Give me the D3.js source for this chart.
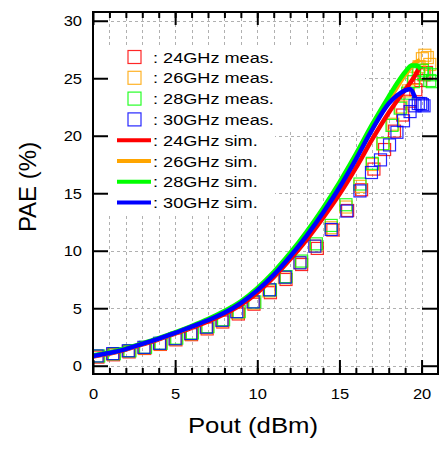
<!DOCTYPE html>
<html>
<head>
<meta charset="utf-8">
<script src="https://cdn.jsdelivr.net/npm/d3@7"></script>
<style>
  body { margin: 0; background: #fff; }
  svg { display: block; font-family: "Liberation Sans", Arial, sans-serif; }
</style>
</head>
<body>
<div id="chart"></div>
<script>
// ---- data ----
const freqs = ["24GHz", "26GHz", "28GHz", "30GHz"];
const colors = ["#ff0000", "#ffa500", "#00ff00", "#0000ff"];

// measured (squares)
const meas24x = [0.3,1.25,2.2,3.15,4.1,5.05,6.0,6.95,7.9,8.85,9.8,10.8,11.75,12.7,13.65,14.6,15.5,16.35,17.1,17.75,18.35,18.85,19.3,19.65,19.95,20.15,20.3];
const meas24y = [0.75,0.95,1.2,1.5,1.85,2.25,2.7,3.2,3.8,4.5,5.35,6.35,7.5,8.8,10.2,11.8,13.5,15.3,17.1,18.8,20.4,21.8,23.0,24.0,24.8,25.3,25.5];
const meas26x = [0.25,1.2,2.15,3.1,4.05,5.0,5.95,6.9,7.85,8.8,9.75,10.7,11.65,12.6,13.55,14.5,15.4,16.25,17.0,17.65,18.25,18.75,19.2,19.55,19.85,20.05,20.2,20.35,20.5];
const meas26y = [0.8,1.0,1.25,1.55,1.9,2.3,2.75,3.3,3.9,4.6,5.45,6.5,7.65,8.95,10.4,12.0,13.8,15.6,17.5,19.3,21.0,22.5,23.9,25.0,26.0,26.7,27.0,26.8,26.2];
const meas28x = [0.35,1.3,2.25,3.2,4.15,5.1,6.05,7.0,7.95,8.9,9.85,10.8,11.75,12.7,13.6,14.5,15.4,16.25,17.0,17.65,18.2,18.7,19.15,19.5,19.8,20.05,20.3,20.5,20.65,20.75];
const meas28y = [0.85,1.05,1.3,1.6,1.95,2.4,2.85,3.4,4.0,4.7,5.55,6.6,7.75,9.1,10.6,12.2,14.0,15.8,17.6,19.3,20.9,22.4,23.7,24.7,25.4,25.7,25.4,24.8,24.7,25.3];
const meas30x = [0.25,1.2,2.15,3.1,4.05,5.0,5.95,6.9,7.85,8.75,9.75,10.75,11.7,12.6,13.5,14.5,15.45,16.25,16.95,17.5,18.05,18.5,18.9,19.3,19.6,19.8,19.95,20.05,20.15];
const meas30y = [0.85,1.05,1.3,1.6,1.95,2.35,2.8,3.35,3.95,4.7,5.55,6.6,7.7,8.95,10.4,11.85,13.45,15.2,16.8,17.9,19.2,20.3,21.3,22.1,22.6,22.8,22.8,22.7,22.6];

// simulated (lines)
const sim24x = [0,1,2,3,4,5,6,7,8,9,10,11,12,13,14,15,16,17,18,19,19.5,19.9];
const sim24y = [0.8,1.05,1.4,1.85,2.3,2.8,3.3,3.85,4.5,5.3,6.35,7.7,9.25,10.95,12.85,14.9,17.2,19.7,22.0,24.0,25.0,26.0];
const sim26x = [0,1,2,3,4,5,6,7,8,9,10,11,12,13,14,15,16,17,18,18.5,19,19.5,19.9];
const sim26y = [0.85,1.1,1.45,1.9,2.35,2.85,3.4,4.0,4.65,5.5,6.6,7.95,9.55,11.4,13.45,15.6,18.0,20.6,23.0,24.2,25.3,26.2,26.6];
const sim28x = [0,1,2,3,4,5,6,7,8,9,10,11,12,13,14,15,16,17,18,18.5,19,19.4,19.7,19.95];
const sim28y = [0.9,1.15,1.5,1.95,2.4,2.9,3.45,4.05,4.75,5.6,6.75,8.15,9.8,11.65,13.7,15.95,18.4,21.0,23.4,24.55,25.55,26.1,26.1,25.8];
const sim30x = [0,1,2,3,4,5,6,7,8,9,10,11,12,13,14,15,16,17,18,18.5,19,19.3,19.6];
const sim30y = [0.85,1.1,1.45,1.9,2.35,2.85,3.4,3.95,4.6,5.45,6.55,7.9,9.5,11.3,13.3,15.5,17.95,20.55,22.8,23.5,23.95,24.05,23.3];

const xMajor = [0, 5, 10, 15, 20];
const yMajor = [0, 5, 10, 15, 20, 25, 30];

const measX = [meas24x, meas26x, meas28x, meas30x];
const measY = [meas24y, meas26y, meas28y, meas30y];
const simX = [sim24x, sim26x, sim28x, sim30x];
const simY = [sim24y, sim26y, sim28y, sim30y];

// ---- layout ----
const W = 440, H = 449;
const pLeft = 93, pRight = 438, pTop = 12, pBottom = 374;

const x = d3.scaleLinear().domain([0, 21]).range([pLeft, pRight]);
const y = d3.scaleLinear().domain([-0.72, 30.76]).range([pBottom, pTop]);

const svg = d3.select("#chart").append("svg")
  .attr("width", W).attr("height", H);

svg.append("defs").append("clipPath").attr("id", "plotclip")
  .append("rect")
  .attr("x", pLeft).attr("y", pTop)
  .attr("width", pRight - pLeft).attr("height", pBottom - pTop);

// gridlines
const grid = svg.append("g")
  .attr("stroke", "#b0b0b0")
  .attr("stroke-width", 1)
  .attr("stroke-dasharray", "3,3");

grid.selectAll("line.v")
  .data(d3.range(1, 21))
  .enter().append("line")
  .attr("class", "v")
  .attr("x1", d => Math.round(x(d)) + 0.5).attr("x2", d => Math.round(x(d)) + 0.5)
  .attr("y1", pTop).attr("y2", pBottom);

grid.selectAll("line.h")
  .data(yMajor)
  .enter().append("line")
  .attr("class", "h")
  .attr("y1", d => Math.round(y(d)) + 0.5).attr("y2", d => Math.round(y(d)) + 0.5)
  .attr("x1", pLeft).attr("x2", pRight);

// legend backgrounds (they hide the grid)
svg.append("rect").attr("x", 106).attr("y", 46).attr("width", 259).attr("height", 84).attr("fill", "#fff");
svg.append("rect").attr("x", 106).attr("y", 130).attr("width", 169).attr("height", 85).attr("fill", "#fff");

// plot contents
const plot = svg.append("g").attr("clip-path", "url(#plotclip)");

const sq = 12;
freqs.forEach((f, i) => {
  const pts = measX[i].map((v, j) => [v, measY[i][j]]);
  plot.append("g")
    .selectAll("rect")
    .data(pts)
    .enter().append("rect")
    .attr("x", d => x(d[0]) - sq / 2)
    .attr("y", d => y(d[1]) - sq / 2)
    .attr("width", sq).attr("height", sq)
    .attr("fill", "none")
    .attr("stroke", colors[i])
    .attr("stroke-width", 1.2)
    .attr("opacity", 0.85);
});

const line = d3.line()
  .x(d => x(d[0]))
  .y(d => y(d[1]))
  .curve(d3.curveMonotoneX);

freqs.forEach((f, i) => {
  const pts = simX[i].map((v, j) => [v, simY[i][j]]);
  plot.append("path")
    .datum(pts)
    .attr("d", line)
    .attr("fill", "none")
    .attr("stroke", colors[i])
    .attr("stroke-width", 4.5)
    .attr("stroke-linejoin", "round");
});

// axes
const tickFont = 15, tickStretch = 1.1;

function styleAxis(g) {
  g.select(".domain").remove();
  g.selectAll(".tick line").attr("stroke", "#000").attr("stroke-width", 2);
}

// bottom: minor + major with labels
svg.append("g").attr("transform", `translate(0,${pBottom})`)
  .call(d3.axisBottom(x).tickValues(d3.range(1, 21)).tickSize(-6).tickFormat(""))
  .call(styleAxis);
const xAx = svg.append("g").attr("transform", `translate(0,${pBottom})`)
  .call(d3.axisBottom(x).tickValues(xMajor).tickSize(-14).tickPadding(14))
  .call(styleAxis);
xAx.selectAll("text")
  .attr("font-size", tickFont).attr("fill", "#000")
  .attr("font-family", "Liberation Sans, Arial, sans-serif")
  .attr("transform", `scale(${tickStretch},1)`);

// top
svg.append("g").attr("transform", `translate(0,${pTop})`)
  .call(d3.axisTop(x).tickValues(d3.range(1, 21)).tickSize(-6).tickFormat(""))
  .call(styleAxis);
svg.append("g").attr("transform", `translate(0,${pTop})`)
  .call(d3.axisTop(x).tickValues(xMajor).tickSize(-13).tickFormat(""))
  .call(styleAxis);

// left
const yAx = svg.append("g").attr("transform", `translate(${pLeft},0)`)
  .call(d3.axisLeft(y).tickValues(yMajor).tickSize(-15).tickPadding(10))
  .call(styleAxis);
yAx.selectAll("text")
  .attr("font-size", tickFont).attr("fill", "#000")
  .attr("font-family", "Liberation Sans, Arial, sans-serif")
  .attr("transform", `scale(${tickStretch},1)`);

// right
svg.append("g").attr("transform", `translate(${pRight},0)`)
  .call(d3.axisRight(y).tickValues(yMajor).tickSize(-16).tickFormat(""))
  .call(styleAxis);

// frame
svg.append("rect")
  .attr("x", pLeft).attr("y", pTop)
  .attr("width", pRight - pLeft).attr("height", pBottom - pTop)
  .attr("fill", "none").attr("stroke", "#000").attr("stroke-width", 2);

// axis titles
svg.append("text")
  .attr("transform", "translate(253,433) scale(1.17,1)")
  .attr("text-anchor", "middle")
  .attr("font-size", 22)
  .text("Pout (dBm)");

svg.append("text")
  .attr("transform", "translate(36,187) rotate(-90)")
  .attr("text-anchor", "middle")
  .attr("font-size", 24)
  .text("PAE (%)");

// legend
const legRows = [];
freqs.forEach((f, i) => legRows.push({ type: "meas", color: colors[i], label: ": " + f + " meas." }));
freqs.forEach((f, i) => legRows.push({ type: "sim", color: colors[i], label: ": " + f + " sim." }));

const legend = svg.append("g");
const item = legend.selectAll("g")
  .data(legRows)
  .enter().append("g")
  .attr("transform", (d, i) => `translate(0,${57 + i * 20.8})`);

item.filter(d => d.type === "meas").append("rect")
  .attr("x", 128).attr("y", -6.5)
  .attr("width", 13).attr("height", 13)
  .attr("fill", "none")
  .attr("stroke", d => d.color)
  .attr("stroke-width", 1.2)
  .attr("opacity", 0.85);

item.filter(d => d.type === "sim").append("line")
  .attr("x1", 117).attr("x2", 151)
  .attr("y1", 0).attr("y2", 0)
  .attr("stroke", d => d.color)
  .attr("stroke-width", 4);

item.append("text")
  .attr("transform", "translate(153,5.5) scale(1.17,1)")
  .attr("font-size", 15.5)
  .text(d => d.label);
</script>
</body>
</html>
